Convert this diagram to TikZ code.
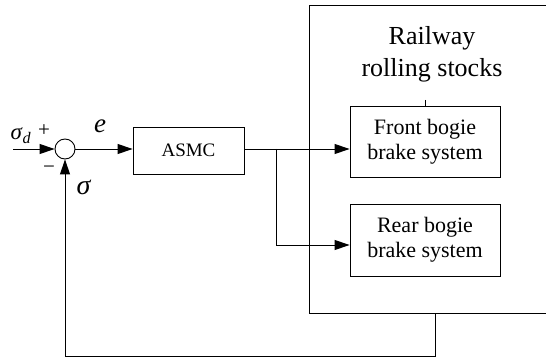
\documentclass[tikz,border=0pt]{standalone}
\usepackage{fontspec}
\setmainfont{Liberation Serif}
\usetikzlibrary{arrows.meta}
\begin{document}
\begin{tikzpicture}[x=1pt,y=-1pt,
  line width=0.9pt,
  blk/.style={draw, inner sep=0pt, align=center},
  arr/.style={-{Triangle[length=15pt,width=10pt]}},
  lbl/.style={inner sep=0pt}]
\useasboundingbox (0,0) rectangle (546,358);
% summing junction
\node[draw, circle, minimum size=20pt, inner sep=0pt] (sum) at (65,149) {};
\coordinate (in) at (13,149);
\draw[arr] (in) -- (sum.west);
\node[lbl, font=\fontsize{23}{26}\selectfont] (sd) at (21,136) {\textit{σ}\textsubscript{\textit{d}}};
\node[lbl, font=\fontsize{21}{24}\selectfont] (plus) at (44,131) {+};
\node[lbl, font=\fontsize{21}{24}\selectfont] (minus) at (49,170) {−};
\node[lbl, font=\fontsize{27}{30}\selectfont] (e) at (100,126) {\textit{e}};
\node[lbl, font=\fontsize{28}{30}\selectfont] (sig) at (84,187) {\textit{σ}};
% ASMC
\node[blk, minimum width=111pt, minimum height=47pt, font=\fontsize{19}{22}\selectfont] (asmc) at (188.5,150.5) {ASMC};
\draw[arr] (sum.east) -- (asmc.west |- sum.east);
% plant blocks
\node[blk, minimum width=150pt, minimum height=71pt, font=\fontsize{22}{25}\selectfont] (front) at (425,141.5) {Front bogie\\brake system};
\node[blk, minimum width=150pt, minimum height=72pt, font=\fontsize{22}{25}\selectfont] (rear) at (425,240) {Rear bogie\\brake system};
% big box (open on the right)
\coordinate (bbtr) at (548,5);
\coordinate (bbtl) at (309,5);
\coordinate (bbbl) at (309,313);
\coordinate (bbbr) at (548,313);
\draw (bbtr) -- (bbtl) -- (bbbl) -- (bbbr);
\node[lbl, align=center, font=\fontsize{26}{32}\selectfont] (title) at (432,54) {Railway\\rolling stocks};
\coordinate (tick) at (425,100);
\draw (tick) -- (front.north);
% branches
\coordinate (br) at (276,149);
\draw[arr] (asmc.east |- br) -- (front.west |- br);
\coordinate (br2) at (276,245);
\draw[arr] (br) -- (br2) -- (rear.west |- br2);
% feedback
\coordinate (fb1) at (435,313);
\coordinate (fb2) at (435,356);
\coordinate (fb3) at (65,356);
\draw[arr] (fb1) -- (fb2) -- (fb3) -- (sum.south);
\end{tikzpicture}
\end{document}
